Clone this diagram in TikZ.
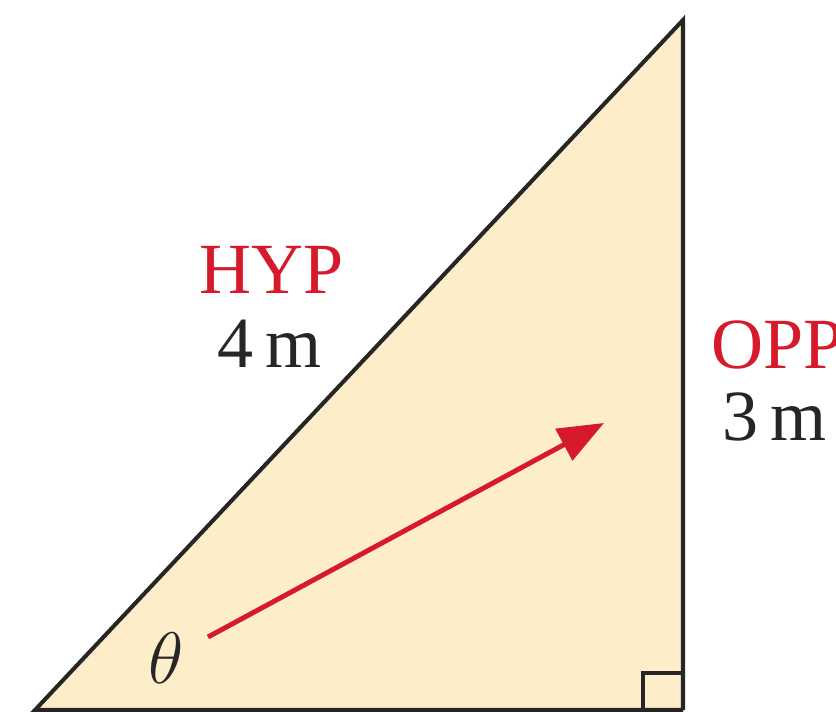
\documentclass[tikz,border=0pt]{standalone}
\usepackage{fontspec}
\setmainfont{Liberation Serif}
\usepackage{xcolor}
\usetikzlibrary{arrows.meta,positioning,calc}
\definecolor{tribeige}{HTML}{FDEDC9}
\definecolor{labred}{HTML}{D71A2B}

\begin{document}
\begin{tikzpicture}[
  x=0.01cm, y=-0.01cm,
  font=\fontsize{20.5}{24}\selectfont,
  side/.style={draw=black!85, line width=1.15pt, line join=miter},
  lbl/.style={inner sep=0pt, anchor=base, text=black!85},
  redlbl/.style={lbl, text=labred},
  vec/.style={draw=labred, line width=1.4pt, -{Triangle[length=13pt, width=10pt]}},
]
\useasboundingbox (0,0) rectangle (836,712);
\coordinate (A) at (35,710);
\coordinate (B) at (683,710);
\coordinate (C) at (683,20);
\fill[tribeige] (A) -- (B) -- (C) -- cycle;
\draw[side] (B) -- (A) -- (C) -- (B);
\draw[side] ($(B)+(-40,0)$) -- ++(0,-37) -- ++(40,0);

\node[redlbl] (hyp) at (272,293) {HYP};
\node[lbl] (hyplen) at (270,367) {4\,m};
\node[redlbl, anchor=base west] (opp) at (711,368) {OPP};
\node[lbl, anchor=base west] (opplen) at (722,440) {3\,m};
\node[lbl, anchor=center] (theta) at (166,658) {$\theta$};

\coordinate (vstart) at (208,637);
\coordinate (vend) at (604,423);
\draw[vec] (vstart) -- (vend);
\end{tikzpicture}
\end{document}
